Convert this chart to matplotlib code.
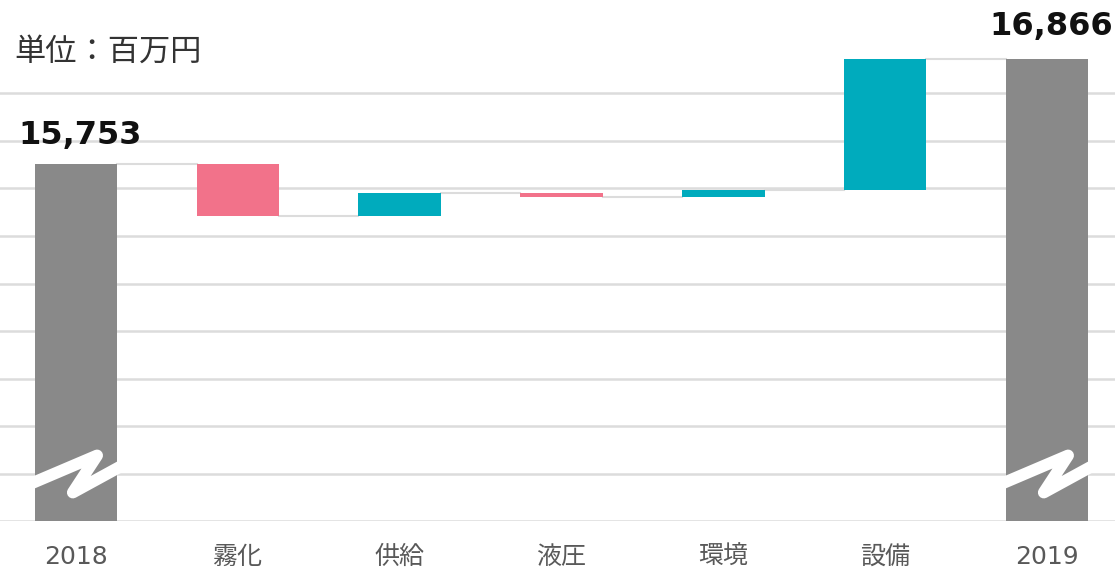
import numpy as np
import matplotlib.pyplot as plt

categories = ["2018", "霧化", "供給", "液圧", "環境", "設備", "2019"]
start_value = 15753
end_value = 16866
changes = [-540, 235, -40, 80, 1378]
grid_ticks = list(range(12000, 17000, 500))

GRAY = "#898989"
PINK = "#F2728A"
TEAL = "#00ABBD"
GRID = "#dcdcdc"

plt.rcParams['font.family'] = ['DejaVu Sans', 'Noto Sans CJK JP']

fig = plt.figure(figsize=(11.15, 5.74), dpi=100)
ax = fig.add_axes([0, 0.0923, 1, 0.8193])

x = np.arange(len(categories))
width = 0.51

# totals
ax.bar([0, len(categories) - 1], [start_value, end_value], width=width,
       color=GRAY, zorder=3)

# floating steps
levels = start_value + np.concatenate([[0], np.cumsum(changes)])
for i, d in enumerate(changes):
    lo = min(levels[i], levels[i + 1])
    ax.bar(i + 1, abs(d), bottom=lo, width=width,
           color=TEAL if d > 0 else PINK, zorder=3)

# connectors between bars
all_levels = list(levels) + [end_value]
for i in range(len(categories) - 1):
    ax.plot([i + width / 2, i + 1 - width / 2], [all_levels[i], all_levels[i]],
            color=GRID, lw=1.5, zorder=2)

ax.set_yticks(grid_ticks)
ax.grid(axis='y', color=GRID, lw=1.8, zorder=0)
ax.set_ylim(12000, 16950)
ax.set_xlim(-0.47, 6.42)
for s in ax.spines.values():
    s.set_visible(False)
ax.tick_params(left=False, bottom=False, labelleft=False)
ax.set_xticks(x)
ax.set_xticklabels(categories, fontsize=18, color="#595959")
ax.tick_params(axis='x', pad=14)

# axis break marks on the total bars
zx = np.array([-0.27, 0.13, -0.02, 0.27])
zy = 12000 + np.array([400, 690, 300, 570])
for xi in [0, len(categories) - 1]:
    ax.plot(xi + zx, zy, color="white", lw=8.5, solid_joinstyle='round',
            solid_capstyle='round', zorder=4, clip_on=False)

# value labels
ax.annotate(f"{start_value:,}", (0, start_value), xytext=(3, 10),
            textcoords='offset points', ha='center', va='bottom',
            fontsize=23, fontweight='bold', color="#111111",
            annotation_clip=False)
ax.annotate(f"{end_value:,}", (len(categories) - 1, end_value), xytext=(3, 12),
            textcoords='offset points', ha='center', va='bottom',
            fontsize=23, fontweight='bold', color="#111111",
            annotation_clip=False)

fig.text(0.013, 0.91, "単位：百万円", fontsize=22.5, color="#333333",
         va='center', ha='left', family=['Noto Sans CJK JP', 'DejaVu Sans'])

fig.savefig("out.png", dpi=100)
